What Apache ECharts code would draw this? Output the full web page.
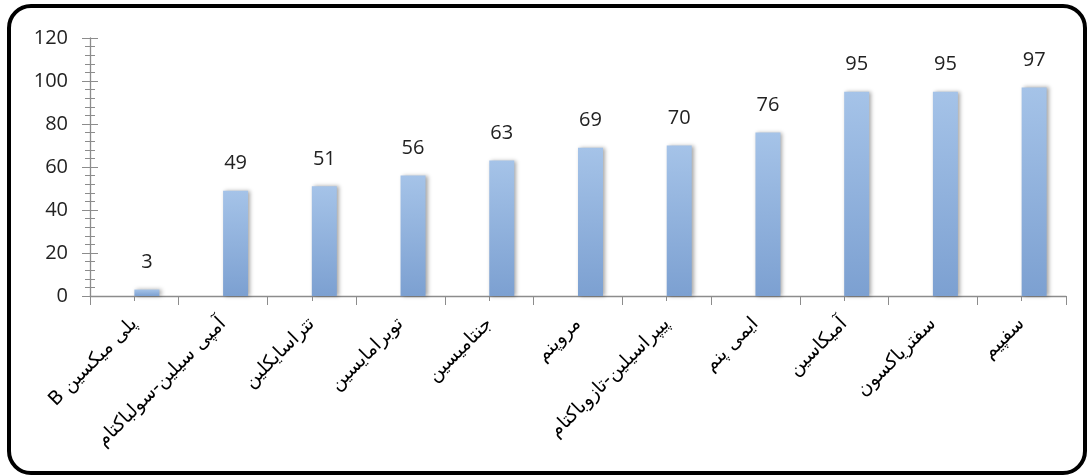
<!DOCTYPE html>
<html>
<head>
<meta charset="utf-8">
<script src="https://cdn.jsdelivr.net/npm/echarts@6/dist/echarts.min.js"></script>
<style>
html,body{margin:0;padding:0;background:#fff;}
#c{width:1087px;height:475px;}
</style>
</head>
<body>
<div id="c"></div>
<script>
const categories = [
  "پلی میکسین B",
  "آمپی سیلین-سولباکتام",
  "تتراسایکلین",
  "توبرامایسین",
  "جنتامیسین",
  "مروپنم",
  "پیپراسیلین-تازوباکتام",
  "ایمی پنم",
  "آمیکاسین",
  "سفتریاکسون",
  "سفپیم"
];
const values = [3, 49, 51, 56, 63, 69, 70, 76, 95, 95, 97];
const yTicks = { min: 0, max: 120, interval: 20 };

const chart = echarts.init(document.getElementById('c'), null, { renderer: 'canvas' });
const axisGray = '#8c8c8c';
chart.setOption({
  animation: false,
  backgroundColor: '#fff',
  graphic: [{
    type: 'rect',
    shape: { x: 9, y: 6, width: 1076, height: 467, r: 22 },
    style: { fill: 'none', stroke: '#000', lineWidth: 4 },
    z: 100, silent: true
  }],
  grid: { left: 90, right: 21, top: 38, bottom: 179 },
  xAxis: [{
    type: 'category',
    data: categories,
    boundaryGap: true,
    axisLine: { lineStyle: { color: axisGray, width: 1.3 } },
    axisTick: { show: true, length: 9, lineStyle: { color: axisGray } },
    axisLabel: {
      interval: 0,
      rotate: 45,
      margin: 25,
      fontFamily: 'DejaVu Sans',
      fontSize: 19,
      color: '#000',
      formatter: v => '\u202B' + v + '\u202C'
    }
  }, {
    type: 'category',
    data: categories,
    position: 'bottom',
    axisLine: { show: false },
    axisTick: { show: true, alignWithLabel: true, length: 5, lineStyle: { color: axisGray } },
    axisLabel: { show: false }
  }],
  yAxis: [{
    type: 'value',
    min: yTicks.min, max: yTicks.max, interval: yTicks.interval,
    axisLine: { show: true, lineStyle: { color: axisGray, width: 1.3 } },
    axisTick: { show: true, length: 8, lineStyle: { color: axisGray } },
    minorTick: { show: true, splitNumber: 5, length: 5, lineStyle: { color: axisGray } },
    splitLine: { show: false },
    axisLabel: { margin: 22, fontFamily: 'Open Sans, Liberation Sans', fontSize: 20, color: '#222' }
  }, {
    type: 'value',
    position: 'left',
    min: yTicks.min, max: yTicks.max, interval: yTicks.interval,
    axisLine: { show: false },
    axisTick: { show: true, inside: true, length: 8, lineStyle: { color: axisGray } },
    minorTick: { show: true, splitNumber: 5, length: 5, lineStyle: { color: axisGray } },
    splitLine: { show: false },
    axisLabel: { show: false }
  }],
  series: [{
    type: 'bar',
    name: 'blank',
    data: [],
    barWidth: 25,
    barGap: '0%'
  }, {
    type: 'bar',
    name: 'values',
    data: values,
    barWidth: 25,
    barGap: '0%',
    itemStyle: {
      color: new echarts.graphic.LinearGradient(0, 0, 0, 1, [
        { offset: 0, color: '#a5c3e8' },
        { offset: 1, color: '#7ca0d1' }
      ]),
      shadowColor: 'rgba(0,0,0,0.35)',
      shadowBlur: 4,
      shadowOffsetX: 2,
      shadowOffsetY: 0
    },
    label: {
      show: true,
      position: 'top',
      distance: 17,
      fontFamily: 'Open Sans, Liberation Sans',
      fontSize: 20,
      color: '#222'
    }
  }]
});
</script>
</body>
</html>
